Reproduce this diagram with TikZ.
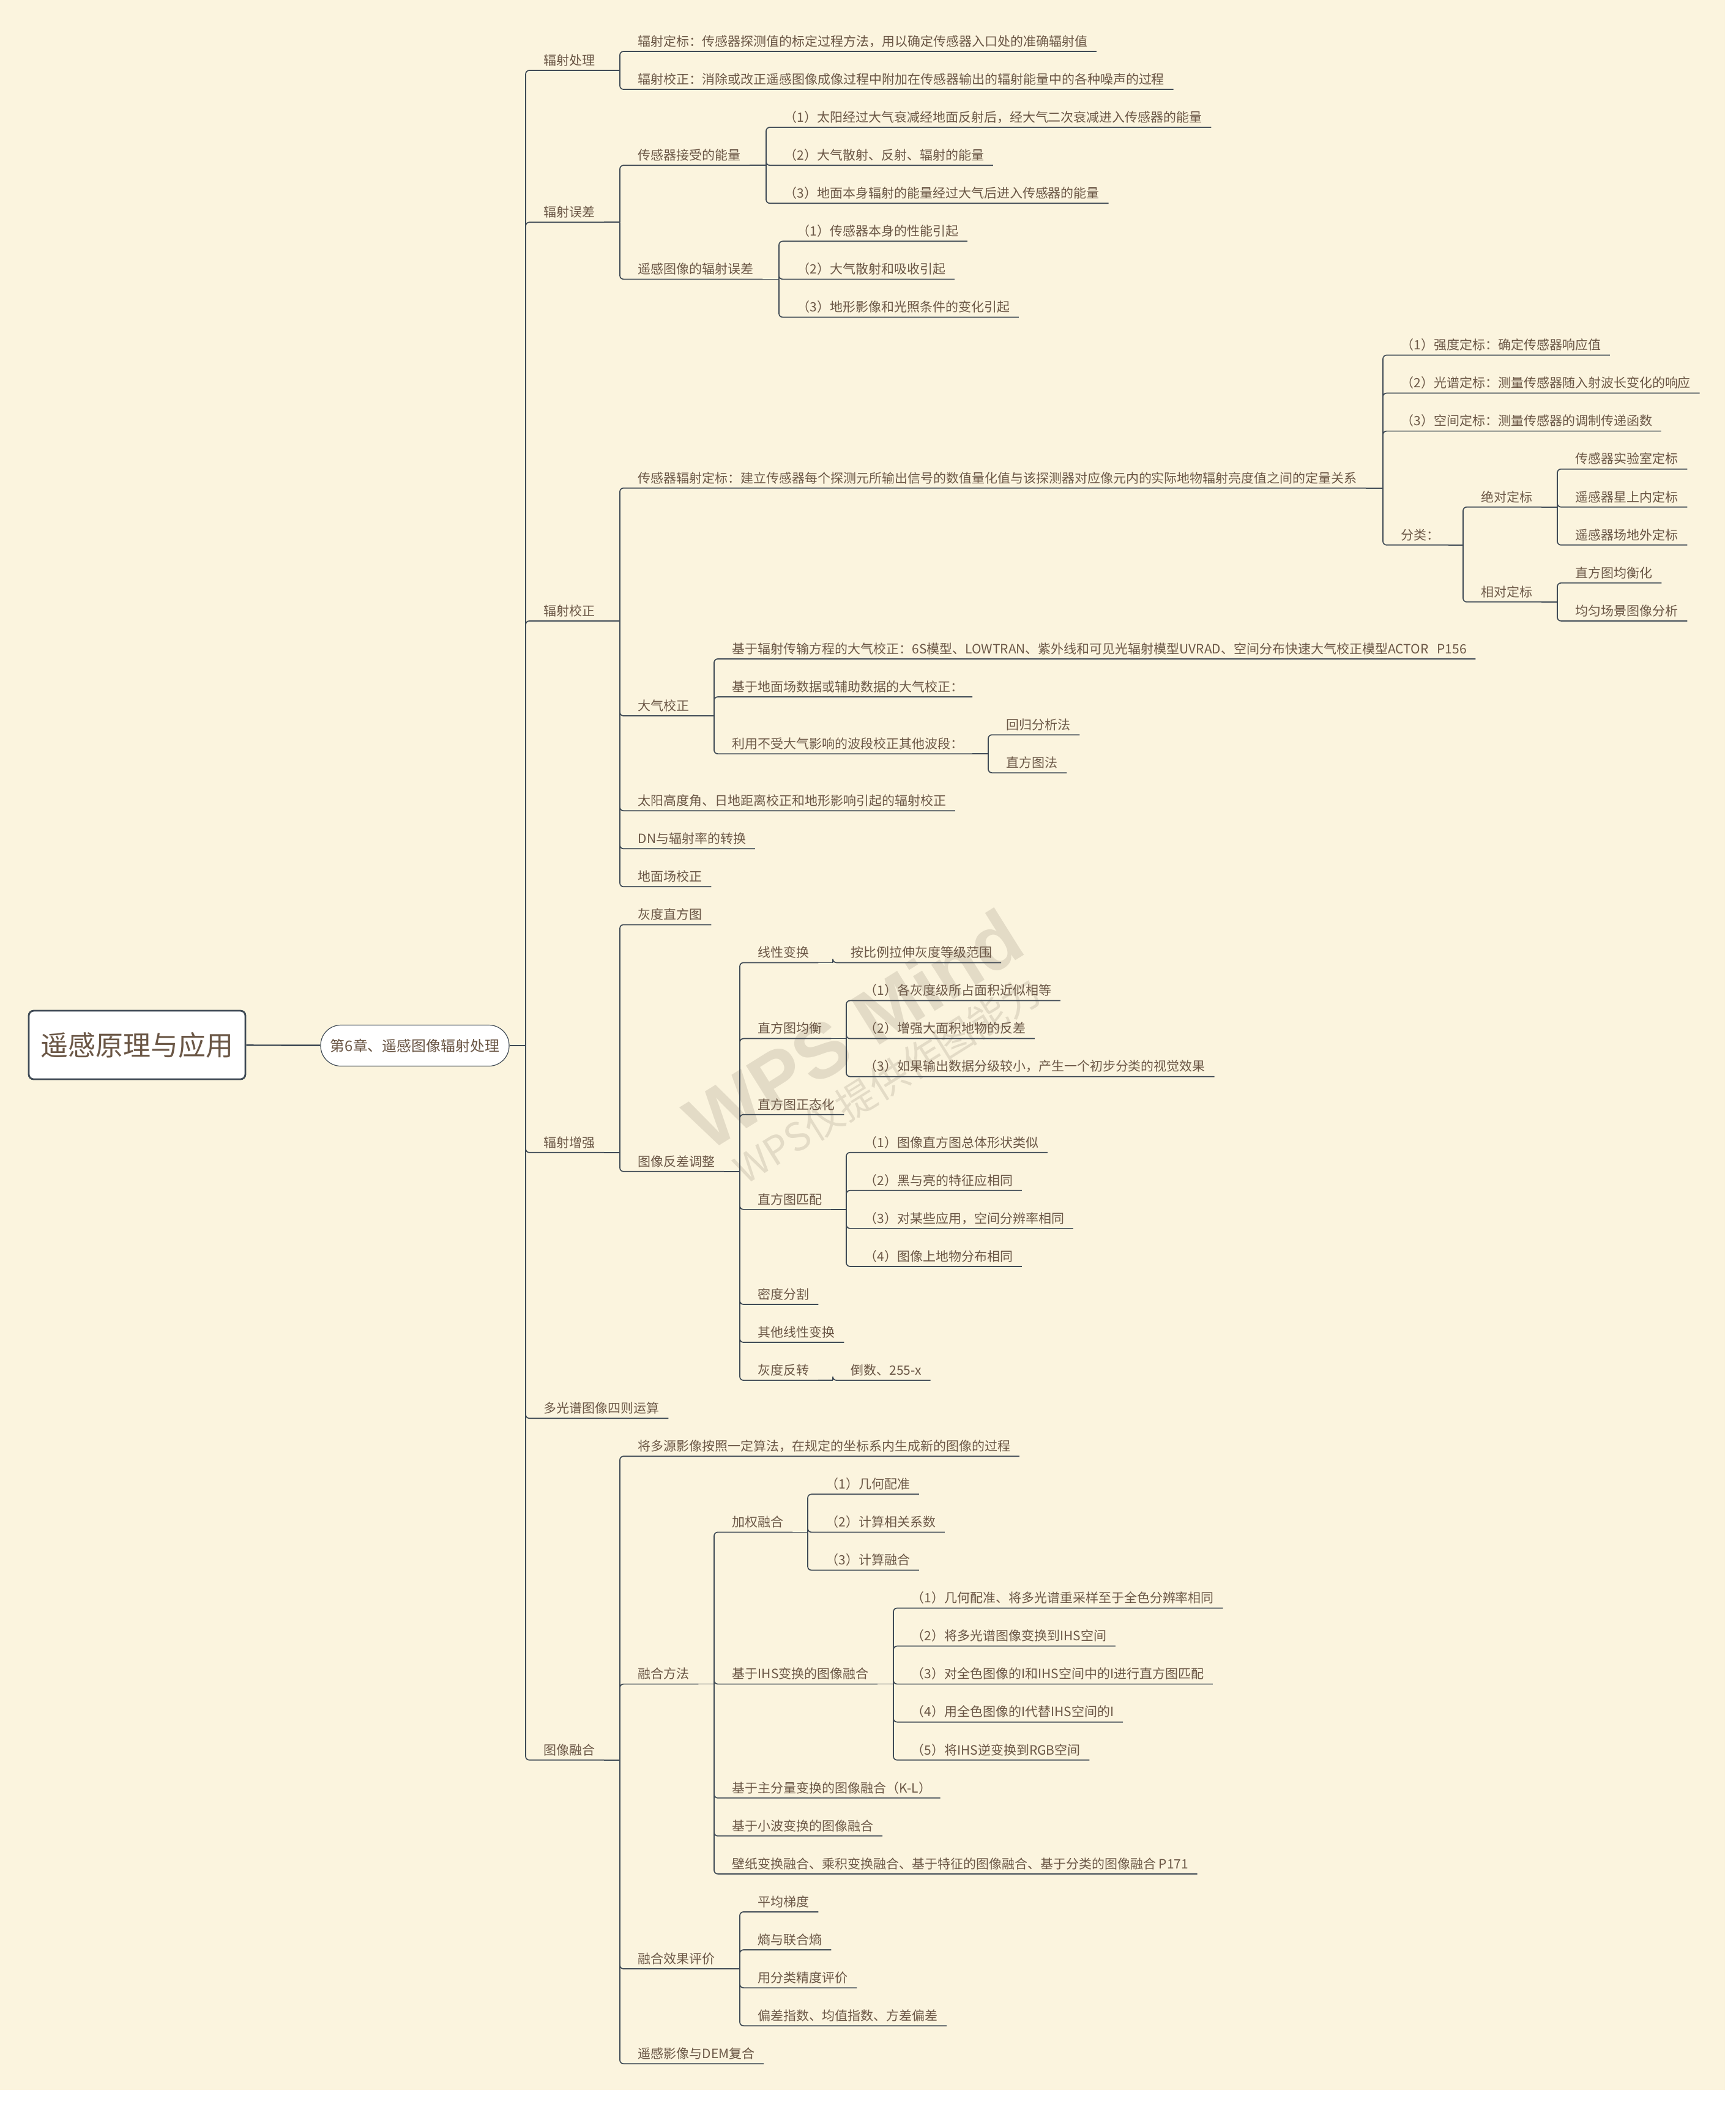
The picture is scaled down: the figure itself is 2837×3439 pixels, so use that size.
\documentclass[tikz,border=0pt]{standalone}
\usepackage{fontspec}
\newfontfamily\cjk{Noto Sans CJK SC}
\newfontfamily\wmfont{Liberation Sans}
\usetikzlibrary{calc}
\definecolor{paper}{HTML}{FBF4DE}
\definecolor{ink}{HTML}{6B5746}
\definecolor{wire}{HTML}{3F4A55}
\definecolor{wmark}{HTML}{E3DBC6}

\begin{document}
\begin{tikzpicture}[x=0.1mm, y=-0.1mm, declare function={ry(\r)=84+62.06*\r;},
		every node/.style={text=ink, font=\cjk\fontsize{5.97pt}{7pt}\selectfont},
		topic/.style={anchor=south west, inner xsep=1.4mm, inner ysep=0.4mm, text height=1.8mm, text depth=0.4mm},
		link/.style={draw=wire, line width=0.17mm, rounded corners=0.6mm},
		root/.style={draw=wire, line width=0.28mm, fill=white, rounded corners=0.8mm, minimum width=35.4mm, minimum height=11.2mm, font=\cjk\fontsize{12.8pt}{14pt}\selectfont},
		chapter/.style={draw=wire, line width=0.12mm, fill=white, rounded corners=3.3mm, minimum width=30.8mm, minimum height=6.7mm, font=\cjk\fontsize{6.8pt}{8pt}\selectfont},
		wmtext/.style={text=wmark, rotate=32}]
		\useasboundingbox (0,0) rectangle (2837,3439);
		\fill[white] (0,0) rectangle (2837,3439);
		\fill[paper] (0,0) rectangle (2819,3416);
		\node[wmtext, font=\wmfont\bfseries\fontsize{36pt}{36pt}\selectfont] (wm) at (1395,1682) {WPS Mind};
		\node[wmtext, font=\cjk\fontsize{18pt}{18pt}\selectfont] (wm-sub) at (1450,1765) {WPS仅提供作图能力};

		\node[root] (root) at (224,1708) {遥感原理与应用};
		\node[chapter] (chap) at (678,1709) {第6章、遥感图像辐射处理};

		\node[topic] (proc) at (874,{ry(0.5)}) {辐射处理};
		\node[topic] (err) at (874,{ry(4.5)}) {辐射误差};
		\node[topic] (corr) at (874,{ry(15)}) {辐射校正};
		\node[topic] (enh) at (874,{ry(29)}) {辐射增强};
		\node[topic] (arith) at (874,{ry(36)}) {多光谱图像四则运算};
		\node[topic] (fus) at (874,{ry(45)}) {图像融合};

		\node[topic] (proc-a) at (1028,{ry(0)}) {辐射定标：传感器探测值的标定过程方法，用以确定传感器入口处的准确辐射值};
		\node[topic] (proc-b) at (1028,{ry(1)}) {辐射校正：消除或改正遥感图像成像过程中附加在传感器输出的辐射能量中的各种噪声的过程};

		\node[topic] (err-recv) at (1028,{ry(3)}) {传感器接受的能量};
		\node[topic] (err-img) at (1028,{ry(6)}) {遥感图像的辐射误差};
		\node[topic] (recv-1) at (1267,{ry(2)}) {（1）太阳经过大气衰减经地面反射后，经大气二次衰减进入传感器的能量};
		\node[topic] (recv-2) at (1267,{ry(3)}) {（2）大气散射、反射、辐射的能量};
		\node[topic] (recv-3) at (1267,{ry(4)}) {（3）地面本身辐射的能量经过大气后进入传感器的能量};
		\node[topic] (img-1) at (1288,{ry(5)}) {（1）传感器本身的性能引起};
		\node[topic] (img-2) at (1288,{ry(6)}) {（2）大气散射和吸收引起};
		\node[topic] (img-3) at (1288,{ry(7)}) {（3）地形影像和光照条件的变化引起};

		\node[topic] (corr-cal) at (1028,{ry(11.5)}) {传感器辐射定标：建立传感器每个探测元所输出信号的数值量化值与该探测器对应像元内的实际地物辐射亮度值之间的定量关系};
		\node[topic] (corr-atm) at (1028,{ry(17.5)}) {大气校正};
		\node[topic] (corr-sun) at (1028,{ry(20)}) {太阳高度角、日地距离校正和地形影响引起的辐射校正};
		\node[topic] (corr-dn) at (1028,{ry(21)}) {DN与辐射率的转换};
		\node[topic] (corr-site) at (1028,{ry(22)}) {地面场校正};
		\node[topic] (cal-1) at (2275,{ry(8)}) {（1）强度定标：确定传感器响应值};
		\node[topic] (cal-2) at (2275,{ry(9)}) {（2）光谱定标：测量传感器随入射波长变化的响应};
		\node[topic] (cal-3) at (2275,{ry(10)}) {（3）空间定标：测量传感器的调制传递函数};
		\node[topic] (cal-cls) at (2275,{ry(13)}) {分类：};
		\node[topic] (cls-abs) at (2406,{ry(12)}) {绝对定标};
		\node[topic] (cls-rel) at (2406,{ry(14.5)}) {相对定标};
		\node[topic] (abs-1) at (2560,{ry(11)}) {传感器实验室定标};
		\node[topic] (abs-2) at (2560,{ry(12)}) {遥感器星上内定标};
		\node[topic] (abs-3) at (2560,{ry(13)}) {遥感器场地外定标};
		\node[topic] (rel-1) at (2560,{ry(14)}) {直方图均衡化};
		\node[topic] (rel-2) at (2560,{ry(15)}) {均匀场景图像分析};
		\node[topic] (atm-rt) at (1182,{ry(16)}) {基于辐射传输方程的大气校正：6S模型、LOWTRAN、紫外线和可见光辐射模型UVRAD、空间分布快速大气校正模型ACTOR~~~P156};
		\node[topic] (atm-gd) at (1182,{ry(17)}) {基于地面场数据或辅助数据的大气校正：};
		\node[topic] (atm-band) at (1182,{ry(18.5)}) {利用不受大气影响的波段校正其他波段：};
		\node[topic] (band-1) at (1630,{ry(18)}) {回归分析法};
		\node[topic] (band-2) at (1630,{ry(19)}) {直方图法};

		\node[topic] (enh-hist) at (1028,{ry(23)}) {灰度直方图};
		\node[topic] (enh-con) at (1028,{ry(29.5)}) {图像反差调整};
		\node[topic] (con-lin) at (1224,{ry(24)}) {线性变换};
		\node[topic] (lin-a) at (1376,{ry(24)}) {按比例拉伸灰度等级范围};
		\node[topic] (con-eq) at (1224,{ry(26)}) {直方图均衡};
		\node[topic] (eq-1) at (1398,{ry(25)}) {（1）各灰度级所占面积近似相等};
		\node[topic] (eq-2) at (1398,{ry(26)}) {（2）增强大面积地物的反差};
		\node[topic] (eq-3) at (1398,{ry(27)}) {（3）如果输出数据分级较小，产生一个初步分类的视觉效果};
		\node[topic] (con-norm) at (1224,{ry(28)}) {直方图正态化};
		\node[topic] (con-match) at (1224,{ry(30.5)}) {直方图匹配};
		\node[topic] (match-1) at (1398,{ry(29)}) {（1）图像直方图总体形状类似};
		\node[topic] (match-2) at (1398,{ry(30)}) {（2）黑与亮的特征应相同};
		\node[topic] (match-3) at (1398,{ry(31)}) {（3）对某些应用，空间分辨率相同};
		\node[topic] (match-4) at (1398,{ry(32)}) {（4）图像上地物分布相同};
		\node[topic] (con-dens) at (1224,{ry(33)}) {密度分割};
		\node[topic] (con-other) at (1224,{ry(34)}) {其他线性变换};
		\node[topic] (con-inv) at (1224,{ry(35)}) {灰度反转};
		\node[topic] (inv-a) at (1376,{ry(35)}) {倒数、255-x};

		\node[topic] (fus-def) at (1028,{ry(37)}) {将多源影像按照一定算法，在规定的坐标系内生成新的图像的过程};
		\node[topic] (fus-meth) at (1028,{ry(43)}) {融合方法};
		\node[topic] (fus-eval) at (1028,{ry(50.5)}) {融合效果评价};
		\node[topic] (fus-dem) at (1028,{ry(53)}) {遥感影像与DEM复合};
		\node[topic] (meth-w) at (1182,{ry(39)}) {加权融合};
		\node[topic] (w-1) at (1335,{ry(38)}) {（1）几何配准};
		\node[topic] (w-2) at (1335,{ry(39)}) {（2）计算相关系数};
		\node[topic] (w-3) at (1335,{ry(40)}) {（3）计算融合};
		\node[topic] (meth-ihs) at (1182,{ry(43)}) {基于IHS变换的图像融合};
		\node[topic] (ihs-1) at (1475,{ry(41)}) {（1）几何配准、将多光谱重采样至于全色分辨率相同};
		\node[topic] (ihs-2) at (1475,{ry(42)}) {（2）将多光谱图像变换到IHS空间};
		\node[topic] (ihs-3) at (1475,{ry(43)}) {（3）对全色图像的I和IHS空间中的I进行直方图匹配};
		\node[topic] (ihs-4) at (1475,{ry(44)}) {（4）用全色图像的I代替IHS空间的I};
		\node[topic] (ihs-5) at (1475,{ry(45)}) {（5）将IHS逆变换到RGB空间};
		\node[topic] (meth-pca) at (1182,{ry(46)}) {基于主分量变换的图像融合（K-L）};
		\node[topic] (meth-wav) at (1182,{ry(47)}) {基于小波变换的图像融合};
		\node[topic] (meth-misc) at (1182,{ry(48)}) {壁纸变换融合、乘积变换融合、基于特征的图像融合、基于分类的图像融合 P171};
		\node[topic] (eval-1) at (1224,{ry(49)}) {平均梯度};
		\node[topic] (eval-2) at (1224,{ry(50)}) {熵与联合熵};
		\node[topic] (eval-3) at (1224,{ry(51)}) {用分类精度评价};
		\node[topic] (eval-4) at (1224,{ry(52)}) {偏差指数、均值指数、方差偏差};

		\draw[link, line width=0.24mm] (root) -- (chap);
		\coordinate (chap-j) at (chap.east -| 859,0);
		\draw[link] (chap) -- (chap-j);
		\foreach \c in {proc,err,corr,enh,arith,fus}
			\draw[link] (chap-j) |- (\c.south east);

		\foreach \p/\jx/\cs in {proc/1013/{proc-a,proc-b}, err/1013/{err-recv,err-img},
				err-recv/1252/{recv-1,recv-2,recv-3}, err-img/1273/{img-1,img-2,img-3},
				corr/1013/{corr-cal,corr-atm,corr-sun,corr-dn,corr-site},
				corr-cal/2260/{cal-1,cal-2,cal-3,cal-cls}, cal-cls/2391/{cls-abs,cls-rel},
				cls-abs/2545/{abs-1,abs-2,abs-3}, cls-rel/2545/{rel-1,rel-2},
				corr-atm/1167/{atm-rt,atm-gd,atm-band}, atm-band/1615/{band-1,band-2},
				enh/1013/{enh-hist,enh-con},
				enh-con/1209/{con-lin,con-eq,con-norm,con-match,con-dens,con-other,con-inv},
				con-lin/1361/{lin-a}, con-eq/1383/{eq-1,eq-2,eq-3},
				con-match/1383/{match-1,match-2,match-3,match-4}, con-inv/1361/{inv-a},
				fus/1013/{fus-def,fus-meth,fus-eval,fus-dem},
				fus-meth/1167/{meth-w,meth-ihs,meth-pca,meth-wav,meth-misc},
				meth-w/1320/{w-1,w-2,w-3}, meth-ihs/1460/{ihs-1,ihs-2,ihs-3,ihs-4,ihs-5},
				fus-eval/1209/{eval-1,eval-2,eval-3,eval-4}} {
			\coordinate (\p-j) at (\p.south east -| \jx,0);
			\draw[link] (\p.south east) -- (\p-j);
			\foreach \c in \cs
				\draw[link] (\p-j) |- (\c.south east);
		}
	\end{tikzpicture}
\end{document}
